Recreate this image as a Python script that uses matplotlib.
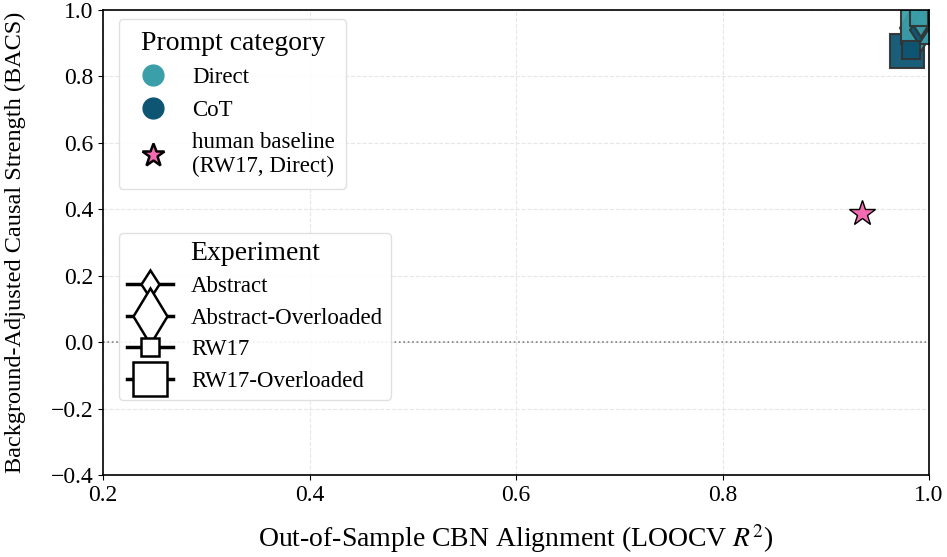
import matplotlib
matplotlib.use("Agg")
import matplotlib.pyplot as plt
from matplotlib.lines import Line2D

plt.rcParams['font.family'] = ['Liberation Serif', 'DejaVu Serif']
plt.rcParams['mathtext.fontset'] = 'stix'

# data
experiments = ['Abstract', 'Abstract-Overloaded', 'RW17', 'RW17-Overloaded']
exp_markers = ['d', 'd', 's', 's']
exp_sizes = [14.5, 29, 12.5, 24]

prompts = ['Direct', 'CoT']
prompt_colors = ['#3a9fa9', '#0d5572']

r2 = {
    'Direct': [0.992, 0.991, 0.990, 0.989],
    'CoT': [0.990, 0.988, 0.983, 0.979],
}
bacs = {
    'Direct': [0.960, 0.955, 0.979, 0.950],
    'CoT': [0.940, 0.945, 0.881, 0.877],
}

human_r2 = 0.935
human_bacs = 0.389

fig, ax = plt.subplots(figsize=(9.47, 5.57), dpi=100)
fig.subplots_adjust(left=0.109, right=0.981, top=0.982, bottom=0.147)

ax.grid(True, linestyle='--', color='#e6e6e6', linewidth=0.8)
ax.set_axisbelow(True)
ax.axhline(0, color='gray', linestyle=':', linewidth=1.2)

# big markers first, then small ones on top
for group in [[1, 3], [0, 2]]:
    for p in ['CoT', 'Direct']:
        col = prompt_colors[prompts.index(p)]
        for i in group:
            ax.plot(r2[p][i], bacs[p][i], marker=exp_markers[i], markersize=exp_sizes[i],
                    color=col, markeredgecolor='#333333', markeredgewidth=1.5,
                    linestyle='none', alpha=0.95)

ax.plot(human_r2, human_bacs, marker='*', markersize=19, color='#f46bb2',
        markeredgecolor='black', markeredgewidth=1.0, linestyle='none')

ax.set_xlim(0.2, 1.0)
ax.set_ylim(-0.4, 1.0)
ax.set_xticks([0.2, 0.4, 0.6, 0.8, 1.0])
ax.set_yticks([-0.4, -0.2, 0.0, 0.2, 0.4, 0.6, 0.8, 1.0])
ax.tick_params(labelsize=17)
for s in ax.spines.values():
    s.set_linewidth(1.2)

ax.set_xlabel('Out-of-Sample CBN Alignment (LOOCV $R^2$)', fontsize=20, labelpad=12)
ax.set_ylabel('Background-Adjusted Causal Strength (BACS)', fontsize=17.5, labelpad=18)

h1 = [Line2D([], [], marker='o', color=c, linestyle='none', markersize=15) for c in prompt_colors]
h1.append(Line2D([], [], marker='*', color='#f46bb2', markeredgecolor='black',
                 markeredgewidth=1.8, linestyle='none', markersize=17))
leg1 = ax.legend(h1, prompts + ['human baseline\n(RW17, Direct)'], title='Prompt category',
                 loc='upper left', bbox_to_anchor=(0.005, 1.005), fontsize=16.5,
                 title_fontsize=20, framealpha=0.9, edgecolor='#dddddd',
                 handletextpad=0.7, labelspacing=0.5, borderpad=0.5)
ax.add_artist(leg1)

h2 = [Line2D([], [], marker=m, color='black', markerfacecolor='white', markeredgecolor='black',
             markeredgewidth=1.8, linewidth=2.5, markersize=s)
      for m, s in zip(exp_markers, exp_sizes)]
ax.legend(h2, experiments, title='Experiment', loc='upper left',
          bbox_to_anchor=(0.005, 0.545), fontsize=16.5, title_fontsize=20,
          framealpha=0.9, edgecolor='#dddddd', handlelength=2.0,
          handletextpad=0.8, labelspacing=0.45, borderpad=0.35)

fig.savefig('out.png', dpi=100)
